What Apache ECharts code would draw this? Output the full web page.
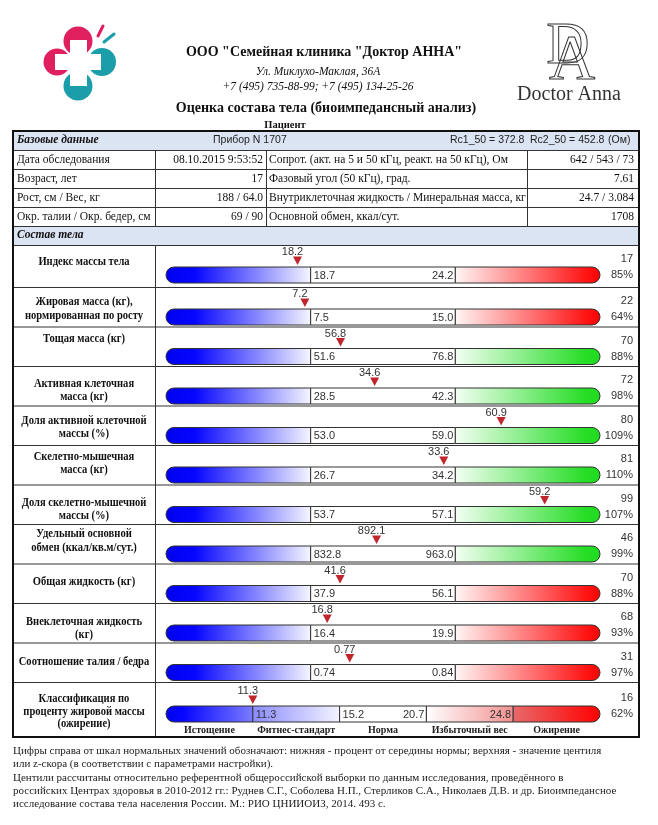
<!DOCTYPE html>
<html><head><meta charset="utf-8">
<script src="https://cdn.jsdelivr.net/npm/echarts@6/dist/echarts.min.js"></script>
<style>html,body{margin:0;padding:0;background:#fff}#c{width:658px;height:825px}</style>
</head><body><div id="c"></div>
<script>
// ---------------- DATA ----------------
const rowLabels = [
  ['Индекс массы тела'],
  ['Жировая масса (кг),', 'нормированная по росту'],
  ['Тощая масса (кг)'],
  ['Активная клеточная', 'масса (кг)'],
  ['Доля активной клеточной', 'массы (%)'],
  ['Скелетно-мышечная', 'масса (кг)'],
  ['Доля скелетно-мышечной', 'массы (%)'],
  ['Удельный основной', 'обмен (ккал/кв.м/сут.)'],
  ['Общая жидкость (кг)'],
  ['Внеклеточная жидкость', '(кг)'],
  ['Соотношение талия / бедра'],
  ['Классификация по', 'проценту жировой массы', '(ожирение)']
];
const measured     = [18.2, 7.2, 56.8, 34.6, 60.9, 33.6, 59.2, 892.1, 41.6, 16.8, 0.767, 11.3];
const measuredText = ['18.2', '7.2', '56.8', '34.6', '60.9', '33.6', '59.2', '892.1', '41.6', '16.8', '0.77', '11.3'];
const normLow      = [18.7, 7.5, 51.6, 28.5, 53.0, 26.7, 53.7, 832.8, 37.9, 16.4, 0.74];
const normHigh     = [24.2, 15.0, 76.8, 42.3, 59.0, 34.2, 57.1, 963.0, 56.1, 19.9, 0.84];
const normLowText  = ['18.7', '7.5', '51.6', '28.5', '53.0', '26.7', '53.7', '832.8', '37.9', '16.4', '0.74'];
const normHighText = ['24.2', '15.0', '76.8', '42.3', '59.0', '34.2', '57.1', '963.0', '56.1', '19.9', '0.84'];
const centile      = ['17', '22', '70', '72', '80', '81', '99', '46', '70', '68', '31', '16'];
const pctOfMid     = ['85%', '64%', '88%', '98%', '109%', '110%', '107%', '99%', '88%', '93%', '97%', '62%'];
const upperZone    = ['red', 'red', 'green', 'green', 'green', 'green', 'green', 'green', 'red', 'red', 'red', 'red'];
const fatBounds     = [11.3, 15.2, 20.7, 24.8];
const fatBoundsText = ['11.3', '15.2', '20.7', '24.8'];
const fatClasses    = ['Истощение', 'Фитнес-стандарт', 'Норма', 'Избыточный вес', 'Ожирение'];

const baseRows = [
  ['Дата обследования', '08.10.2015 9:53:52', 'Сопрот. (акт. на 5 и 50 кГц, реакт. на 50 кГц), Ом', '642 / 543 / 73'],
  ['Возраст, лет', '17', 'Фазовый угол (50 кГц), град.', '7.61'],
  ['Рост, см / Вес, кг', '188 / 64.0', 'Внутриклеточная жидкость / Минеральная масса, кг', '24.7 / 3.084'],
  ['Окр. талии / Окр. бедер, см', '69 / 90', 'Основной обмен, ккал/сут.', '1708']
];
const footerLines = [
  'Цифры справа от шкал нормальных значений обозначают: нижняя - процент от середины нормы; верхняя - значение центиля',
  'или z-скора (в соответствии с параметрами настройки).',
  'Центили рассчитаны относительно референтной общероссийской выборки по данным исследования, проведённого в',
  'российских Центрах здоровья в 2010-2012 гг.: Руднев С.Г., Соболева Н.П., Стерликов С.А., Николаев Д.В. и др. Биоимпедансное',
  'исследование состава тела населения России. М.: РИО ЦНИИОИЗ, 2014. 493 с.'
];

// ---------------- LAYOUT ----------------
const SERIF = '"Liberation Serif", "Times New Roman", serif';
const SANS = '"Liberation Sans", Arial, sans-serif';
const TL = 13, TR = 639, COLA = 155, COLB = 266, COLC = 527;
const BAR_L = 166, BAR_R = 600, BAR_H = 16;
const rowTops = [245, 287, 326.5, 366, 405.5, 445, 484.5, 524, 563.5, 603, 642.5, 682];
const TABLE_TOP = 131, TABLE_BOTTOM = 737;
const baseLines = [131, 150, 169, 188, 207, 226, 245];
const labelOffsets = [[17], [15, 29], [12], [18, 31], [15, 28], [12, 25], [18, 31], [10, 24], [18], [19, 32], [19], [17, 30, 42]];

const G = [];
function txt(x, y, text, font, align, color, extra) {
  G.push(Object.assign({
    type: 'text', x: x, y: y, z: 10,
    style: { text: text, font: font, fill: color || '#111', textAlign: align || 'left', align: align || 'left',
             textVerticalAlign: 'middle', verticalAlign: 'middle' }
  }, extra || {}));
}
function line(x1, y1, x2, y2, w, c) {
  G.push({ type: 'line', z: 5, shape: { x1: x1, y1: y1, x2: x2, y2: y2 }, style: { stroke: c || '#333', lineWidth: w || 1 } });
}
function rect(x, y, w, h, fill, z) {
  G.push({ type: 'rect', z: z || 1, shape: { x: x, y: y, width: w, height: h }, style: { fill: fill } });
}

// --- left logo ---
const PINK = '#e01f5f', TEAL = '#1c9daa';
G.push({ type: 'circle', shape: { cx: 78, cy: 41, r: 14.5 }, style: { fill: PINK } });
G.push({ type: 'circle', shape: { cx: 57, cy: 62, r: 13.5 }, style: { fill: PINK } });
G.push({ type: 'circle', shape: { cx: 102, cy: 62, r: 14 }, style: { fill: TEAL } });
G.push({ type: 'circle', shape: { cx: 78, cy: 86, r: 14.5 }, style: { fill: TEAL } });
G.push({ type: 'rect', z: 2, shape: { x: 70, y: 40, width: 17, height: 46 }, style: { fill: '#fff' } });
G.push({ type: 'rect', z: 2, shape: { x: 55, y: 54, width: 46, height: 16 }, style: { fill: '#fff' } });
G.push({ type: 'line', shape: { x1: 103, y1: 26, x2: 98, y2: 36 }, style: { stroke: PINK, lineWidth: 3, lineCap: 'round' } });
G.push({ type: 'line', shape: { x1: 114, y1: 34, x2: 104, y2: 42 }, style: { stroke: TEAL, lineWidth: 3, lineCap: 'round' } });

// --- right logo ---
txt(568, 47, 'D', '60px ' + SERIF, 'center', '#333', { style: { text: 'D', font: '60px ' + SERIF, fill: 'rgba(255,255,255,0)', stroke: '#333', lineWidth: 1, textAlign: 'center', align: 'center', textVerticalAlign: 'middle', verticalAlign: 'middle' } });
txt(572, 62, 'A', '64px ' + SERIF, 'center', '#333', { style: { text: 'A', font: '64px ' + SERIF, fill: 'rgba(255,255,255,0)', stroke: '#333', lineWidth: 1, textAlign: 'center', align: 'center', textVerticalAlign: 'middle', verticalAlign: 'middle' } });
txt(569, 95, 'Doctor Anna', '20px ' + SERIF, 'center', '#333');

// --- header texts ---
txt(324, 52, 'ООО "Семейная клиника "Доктор АННА"', 'bold 14px ' + SERIF, 'center', '#111');
txt(318, 72, 'Ул. Миклухо-Маклая, 36А', 'italic 11.5px ' + SERIF, 'center', '#111');
txt(318, 87, '+7 (495) 735-88-99; +7 (495) 134-25-26', 'italic 11.5px ' + SERIF, 'center', '#111');
txt(326, 108, 'Оценка состава тела (биоимпедансный анализ)', 'bold 14px ' + SERIF, 'center', '#111');
txt(285, 125, 'Пациент', 'bold 10.5px ' + SERIF, 'center', '#111');

// --- base data table ---
const HDR = '#dbe4f3';
rect(TL, baseLines[0], TR - TL, baseLines[1] - baseLines[0], HDR);
rect(TL, baseLines[5], TR - TL, baseLines[6] - baseLines[5], HDR);
txt(17, (baseLines[0] + baseLines[1]) / 2, 'Базовые данные', 'bold italic 11.5px ' + SERIF, 'left', '#111');
txt(213, (baseLines[0] + baseLines[1]) / 2, 'Прибор N 1707', '10.5px ' + SANS, 'left', '#222');
txt(450, (baseLines[0] + baseLines[1]) / 2, 'Rc1_50 = 372.8', '10.5px ' + SANS, 'left', '#222');
txt(530, (baseLines[0] + baseLines[1]) / 2, 'Rc2_50 = 452.8', '10.5px ' + SANS, 'left', '#222');
txt(608, (baseLines[0] + baseLines[1]) / 2, '(Ом)', '10.5px ' + SANS, 'left', '#222');
baseRows.forEach(function (r, i) {
  const yc = (baseLines[i + 1] + baseLines[i + 2]) / 2;
  txt(17, yc, r[0], '11.5px ' + SERIF, 'left', '#111');
  txt(263, yc, r[1], '11.5px ' + SERIF, 'right', '#111');
  txt(269, yc, r[2], '11.5px ' + SERIF, 'left', '#111');
  txt(634, yc, r[3], '11.5px ' + SERIF, 'right', '#111');
});
txt(17, (baseLines[5] + baseLines[6]) / 2, 'Состав тела', 'bold italic 11.5px ' + SERIF, 'left', '#111');
for (let i = 1; i < baseLines.length; i++) line(TL, baseLines[i] + 0.5, TR, baseLines[i] + 0.5, 1, '#333');
[COLA, COLB, COLC].forEach(function (x) { line(x + 0.5, baseLines[1], x + 0.5, baseLines[5], 1, '#333'); });

// --- composition rows: labels, dividers, right numbers ---
line(COLA + 0.5, baseLines[6], COLA + 0.5, TABLE_BOTTOM, 1, '#333');
for (let i = 1; i < rowTops.length; i++) line(TL, rowTops[i] + 0.5, TR, rowTops[i] + 0.5, 1, '#333');
rowLabels.forEach(function (lines, i) {
  lines.forEach(function (t, k) {
    txt(84, rowTops[i] + labelOffsets[i][k], t, 'bold 12px ' + SERIF, 'center', '#111', { scaleX: 0.88 });
  });
  const barTop = rowTops[i] + (i === 11 ? 24 : 22);
  txt(633, barTop - 8, centile[i], '11px ' + SANS, 'right', '#333');
  txt(633, barTop + 8, pctOfMid[i], '11px ' + SANS, 'right', '#333');
});

// outer frame
G.push({ type: 'rect', z: 6, shape: { x: TL, y: TABLE_TOP, width: TR - TL, height: TABLE_BOTTOM - TABLE_TOP },
         style: { fill: 'none', stroke: '#111', lineWidth: 2 } });

// footer
const footerY = [751, 764, 778, 791, 804];
footerLines.forEach(function (t, i) { txt(13, footerY[i], t, '11px ' + SERIF, 'left', '#222'); });

// ---------------- BARS ----------------
function grad(stops) {
  return new echarts.graphic.LinearGradient(0, 0, 1, 0, stops.map(function (s) { return { offset: s[0], color: s[1] }; }));
}
const BLUE = [[0, '#0000ee'], [0.2, '#0606ff'], [1, '#f6f6ff']];
const REDG = [[0, '#fff6f6'], [0.9, '#ff1515'], [1, '#ff0000']];
const GREENG = [[0, '#f4fff4'], [0.9, '#26dd26'], [1, '#1fdc1f']];
const FATG = [
  [[0, '#0000ee'], [0.2, '#0606ff'], [1, '#7c7cff']],
  [[0, '#8a8aff'], [1, '#f4f4ff']],
  [[0, '#ffffff'], [1, '#ffffff']],
  [[0, '#ffffff'], [1, '#f29090']],
  [[0, '#e86a6a'], [1, '#ff0000']]
];
const NUMF = '11px ' + SANS;
function tx(x, y, text, align, font, color) {
  return { type: 'text', x: x, y: y, style: { text: text, font: font || NUMF, fill: color || '#333',
    textAlign: align, align: align, textVerticalAlign: 'middle', verticalAlign: 'middle' } };
}
function fatToAxis(v) {
  for (let k = 0; k < fatBounds.length - 1; k++) {
    if (v <= fatBounds[k + 1]) return 1 + k + (v - fatBounds[k]) / (fatBounds[k + 1] - fatBounds[k]);
  }
  return fatBounds.length;
}
function makeSegRenderer(row) {
  const isFat = row === 11;
  return function (params, api) {
    const a = api.value(0), b = api.value(1), k = api.value(2);
    const p0 = api.coord([a, 1]), p1 = api.coord([b, 0]);
    const x = p0[0], y = p0[1], w = p1[0] - p0[0], h = p1[1] - p0[1];
    const last = isFat ? 4 : 2;
    let fill;
    if (isFat) fill = grad(FATG[k]);
    else if (k === 0) fill = grad(BLUE);
    else if (k === 1) fill = '#ffffff';
    else fill = grad(upperZone[row] === 'green' ? GREENG : REDG);
    const r = k === 0 ? [8, 0, 0, 8] : (k === last ? [0, 8, 8, 0] : 0);
    const children = [{ type: 'rect', shape: { x: x, y: y, width: w, height: h, r: r },
      style: { fill: fill, stroke: '#333', lineWidth: 1 } }];
    const ym = y + h / 2 + 0.5;
    if (!isFat && k === 1) {
      children.push(tx(x + 3, ym, normLowText[row], 'left'));
      children.push(tx(x + w - 2, ym, normHighText[row], 'right'));
    }
    if (isFat) {
      if (k === 1 || k === 2) children.push(tx(x + 3, ym, fatBoundsText[k - 1], 'left'));
      if (k === 2 || k === 3) children.push(tx(x + w - 2, ym, fatBoundsText[k], 'right'));
      children.push(tx(x + w / 2, y + h + 8, fatClasses[k], 'center', 'bold 10px ' + SERIF, '#222'));
    }
    return { type: 'group', children: children };
  };
}
function makeMarkerRenderer(row) {
  return function (params, api) {
    const p = api.coord([api.value(0), 1]);
    return { type: 'group', children: [
      { type: 'polygon', shape: { points: [[p[0] - 4.5, p[1] - 10.5], [p[0] + 4.5, p[1] - 10.5], [p[0], p[1] - 2]] },
        style: { fill: '#c0262c' } },
      tx(p[0] - 5, p[1] - 15, measuredText[row], 'center')
    ] };
  };
}

const grids = [], xAxes = [], yAxes = [], series = [];
for (let i = 0; i < 12; i++) {
  const isFat = i === 11;
  const barTop = rowTops[i] + (isFat ? 24 : 22);
  grids.push({ left: BAR_L, top: barTop, width: BAR_R - BAR_L, height: BAR_H });
  let mn, mx, segs;
  if (!isFat) {
    const lo = normLow[i], hi = normHigh[i], d = hi - lo;
    mn = lo - d; mx = hi + d;
    segs = [[mn, lo, 0], [lo, hi, 1], [hi, mx, 2]];
  } else {
    mn = 0; mx = fatClasses.length;
    segs = fatClasses.map(function (_, k) { return [k, k + 1, k]; });
  }
  xAxes.push({ gridIndex: i, type: 'value', min: mn, max: mx, show: false });
  yAxes.push({ gridIndex: i, type: 'value', min: 0, max: 1, show: false });
  series.push({ type: 'custom', xAxisIndex: i, yAxisIndex: i, clip: false, silent: true, z: 3,
    encode: { x: [0, 1] }, data: segs, renderItem: makeSegRenderer(i) });
  series.push({ type: 'custom', xAxisIndex: i, yAxisIndex: i, clip: false, silent: true, z: 4,
    encode: { x: 0 }, data: [[isFat ? fatToAxis(measured[i]) : measured[i]]], renderItem: makeMarkerRenderer(i) });
}

const chart = echarts.init(document.getElementById('c'), null, { renderer: 'canvas', width: 658, height: 825 });
chart.setOption({
  backgroundColor: '#ffffff',
  animation: false,
  grid: grids, xAxis: xAxes, yAxis: yAxes,
  graphic: { elements: G },
  series: series
});
</script>
</body></html>
